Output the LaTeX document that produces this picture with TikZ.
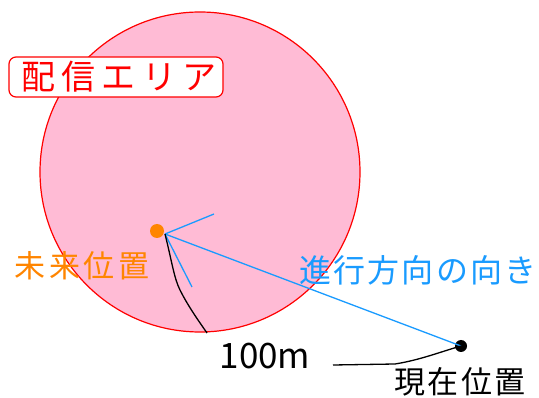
\documentclass[tikz,border=0pt]{standalone}
\usepackage{fontspec}
\setmainfont{Noto Sans CJK JP}
\definecolor{areapink}{RGB}{255,187,213}
\definecolor{areared}{RGB}{255,0,0}
\definecolor{futorange}{RGB}{255,133,0}
\definecolor{dirblue}{RGB}{25,155,255}
\begin{document}
\begin{tikzpicture}[x=1pt,y=-1pt,
  lbl/.style={inner sep=0pt, anchor=center},
  dirline/.style={draw=dirblue, line width=1.3pt},
  blackline/.style={draw=black, line width=1.3pt, line join=round}]
\useasboundingbox (0,0) rectangle (539,398);
\fill[white] (0,0) rectangle (539,398);
\node[circle, fill=areapink, draw=areared, line width=1.2pt, minimum size=320pt, inner sep=0pt] (area) at (200,172) {};
\node[lbl, text=areared, draw=areared, fill=white, rounded corners=7pt, line width=1.2pt, minimum width=214pt, minimum height=40pt,
  font={\fontsize{34}{34}\selectfont\addfontfeature{LetterSpace=18}}] (arealbl) at (116,77) {\hspace*{6pt}配信エリア};
\coordinate (fut) at (165,234);
\coordinate (tickA) at (214,214);
\coordinate (tickB) at (192,287);
\node[circle, fill=black, inner sep=0pt, minimum size=12pt] (cur) at (461,346) {};
\draw[dirline] (fut) -- (cur.center);
\draw[dirline] (fut) -- (tickA);
\draw[dirline] (fut) -- (tickB);
\coordinate (radEnd) at (207,333);
\draw[blackline] (fut) .. controls (172,262) and (174,278) .. (180,290) .. controls (188,306) and (198,320) .. (radEnd);
\node[circle, fill=futorange, inner sep=0pt, minimum size=14pt] (futdot) at (157,231) {};
\node[lbl, text=black, font={\fontsize{35}{35}\selectfont}] (dist) at (265,356) {100m};
\coordinate (distL) at (333,365);
\draw[blackline] (distL) -- (395,364) .. controls (420,360) and (440,352) .. (cur.center);
\node[lbl, text=futorange, font={\fontsize{31}{31}\selectfont\addfontfeature{LetterSpace=12}}] (futlbl) at (82,266) {未来位置};
\node[lbl, text=dirblue, font={\fontsize{32}{32}\selectfont\addfontfeature{LetterSpace=7}}] (dirlbl) at (418,270) {進行方向の向き};
\node[lbl, text=black, font={\fontsize{31}{31}\selectfont\addfontfeature{LetterSpace=8}}] (curlbl) at (460,382) {現在位置};
\end{tikzpicture}
\end{document}
